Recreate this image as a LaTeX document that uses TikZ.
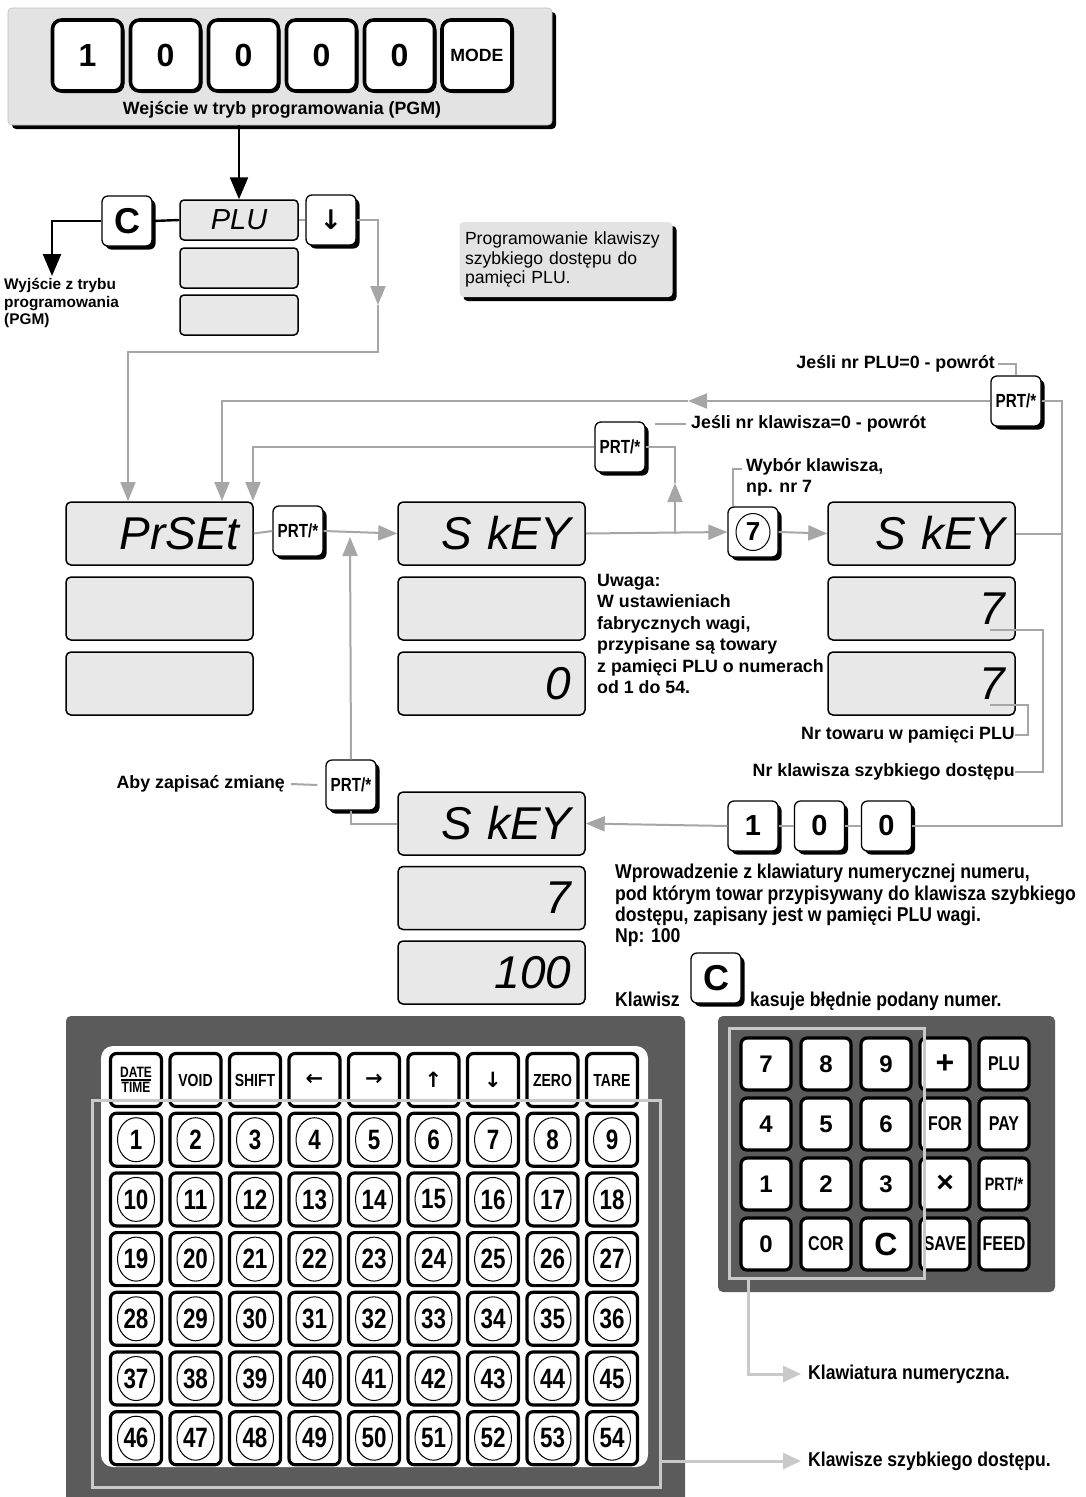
\documentclass[tikz,border=0pt]{standalone}
\usepackage{fontspec}
\setmainfont{Liberation Sans}
\newfontfamily\narr[FakeStretch=0.8]{Liberation Sans}
\newfontfamily\narrb[FakeStretch=0.88]{Liberation Sans}
\newfontfamily\arrf{DejaVu Sans}
\usetikzlibrary{arrows.meta,shadows,shapes.geometric}
\definecolor{lcd}{HTML}{E8E8E8}
\definecolor{boxg}{HTML}{E3E3E3}
\definecolor{lineg}{HTML}{A6A6A6}
\definecolor{outg}{HTML}{C9C9C9}
\definecolor{panel}{HTML}{5B5B5B}
\tikzset{
  gline/.style={draw=lineg,line width=2pt},
  gtip/.style={-{Triangle[length=19pt,width=15pt]}},
  bline/.style={draw=black,line width=2.4pt},
  btip/.style={-{Triangle[length=22pt,width=18pt]}},
  disp/.style={draw,line width=1.5pt,rounded corners=5pt,fill=lcd,minimum width=187pt,minimum height=63pt,inner sep=0pt,text width=160pt,align=right,font=\fontsize{46}{46}\selectfont\itshape},
  sdisp/.style={draw,line width=1.5pt,rounded corners=4pt,fill=lcd,minimum width=118pt,minimum height=40pt,inner sep=0pt,font=\fontsize{29}{29}\selectfont\itshape},
  shd/.style={drop shadow={shadow xshift=3.5pt,shadow yshift=-3.5pt,fill=black,opacity=1}},
  skey/.style={draw,line width=1.3pt,rounded corners=6pt,fill=white,minimum width=50pt,minimum height=50pt,inner sep=0pt,shd},
  prt/.style={skey,font=\narr\bfseries\fontsize{19}{19}\selectfont},
  bigkey/.style={draw,line width=3.6pt,rounded corners=9pt,fill=white,minimum width=70pt,minimum height=71pt,inner sep=0pt,drop shadow={shadow xshift=2pt,shadow yshift=-2pt,fill=black,opacity=1}},
  qkey/.style={draw,line width=3.2pt,rounded corners=6pt,fill=white,minimum width=51pt,minimum height=53pt,inner sep=0pt},
  nkey/.style={draw,line width=3.2pt,rounded corners=6pt,fill=white,minimum width=50pt,minimum height=52pt,inner sep=0pt},
  circ/.style={ellipse,draw,line width=1pt,minimum width=37pt,minimum height=44pt,inner sep=0pt,font=\narr\bfseries\fontsize{28}{28}\selectfont},
  lbl/.style={inner sep=0pt,font=\bfseries\fontsize{17.8}{21.4}\selectfont,align=left},
  nlbl/.style={inner sep=0pt,font=\narrb\bfseries\fontsize{20}{21.3}\selectfont,align=left},
  outl/.style={draw=outg,line width=3pt},
  otip/.style={-{Triangle[length=18pt,width=16pt]}},
  nd/.style={nkey,font=\bfseries\fontsize{24}{24}\selectfont},
  nw/.style={nkey,font=\narr\bfseries\fontsize{20}{20}\selectfont},
  tw/.style={qkey,font=\narr\bfseries\fontsize{17.5}{17.5}\selectfont},
  ta/.style={qkey,font=\arrf\bfseries\fontsize{21}{21}\selectfont},
}
\begin{document}
\begin{tikzpicture}[x=1pt,y=-1pt]
\path[use as bounding box,fill=white] (0,0) rectangle (1085,1497);
% ---------- entry box
\node[fill=boxg,draw=gray!50,line width=0.6pt,rounded corners=4pt,minimum width=544pt,minimum height=117pt,inner sep=0pt,drop shadow={shadow xshift=4pt,shadow yshift=-4pt,fill=black,opacity=1}] (tb) at (280,66.5) {};
\foreach \i/\x/\t in {1/87.5/1,2/165.5/0,3/243.5/0,4/321.5/0,5/399.5/0}
  \node[bigkey,font=\bfseries\fontsize{32}{32}\selectfont] (e\i) at (\x,55.5) {\t};
\node[bigkey,font=\bfseries\fontsize{17.7}{17.7}\selectfont] (e6) at (477,55.5) {MODE};
\node[lbl,font=\bfseries\fontsize{17.8}{17.8}\selectfont] (pgm) at (282,110) {Wejście w tryb programowania (PGM)};
% ---------- PLU block
\node[sdisp] (plu) at (239,220) {PLU};
\node[sdisp] (plu2) at (239,268) {};
\node[sdisp] (plu3) at (239,315) {};
\draw[bline,btip] (tb.south -| plu) -- (plu.north);
\node[skey,font=\bfseries\fontsize{36}{36}\selectfont] (ck) at (127,221) {C};
\draw[bline] (ck.east) -- (plu.west);
\coordinate (exit) at (52,276);
\draw[bline,btip] (ck.west) -| (exit);
\node[lbl,font=\bfseries\fontsize{15.4}{17.5}\selectfont,anchor=north west] (exitt) at (4,278) {Wyjście z trybu\\programowania\\(PGM)};
\node[skey,font=\arrf\bfseries\fontsize{27}{27}\selectfont] (dk) at (331,220) {↓};
\draw[gline] (plu.east) -- (dk.west);
\coordinate (m1) at (378,305);
\draw[gline,gtip] (dk.east) -| (m1);
\coordinate (pa) at (128,501);
\draw[gline,gtip] (m1) -- (378,352) -| (pa);
% ---------- info box
\node[fill=boxg,rounded corners=4pt,minimum width=213pt,minimum height=75pt,text width=202pt,align=left,inner sep=0pt,font=\fontsize{17.6}{19.5}\selectfont,drop shadow={shadow xshift=4pt,shadow yshift=-4pt,fill=black,opacity=1}] (info) at (566,259.5) {Programowanie klawiszy\\szybkiego dostępu do\\pamięci PLU.};
% ---------- displays
\node[disp] (ps1) at (159.5,533.5) {PrSEt};
\node[disp] (ps2) at (159.5,608.5) {};
\node[disp] (ps3) at (159.5,683.5) {};
\node[disp] (sk1) at (491.5,533.5) {S kEY};
\node[disp] (sk2) at (491.5,608.5) {};
\node[disp] (sk3) at (491.5,683.5) {0};
\node[disp,text width=168pt] (sr1) at (921.5,533.5) {S kEY};
\node[disp,text width=168pt] (sr2) at (921.5,608.5) {7};
\node[disp,text width=168pt] (sr3) at (921.5,683.5) {7};
\node[disp] (sb1) at (491.5,823.5) {S kEY};
\node[disp] (sb2) at (491.5,898) {7};
\node[disp] (sb3) at (491.5,972.5) {100};
% ---------- keys in flow
\node[prt] (pk1) at (298,531) {PRT/*};
\node[prt] (pk2) at (620,447) {PRT/*};
\node[prt] (pk3) at (1016,401) {PRT/*};
\node[prt] (pk4) at (351,785) {PRT/*};
\node[skey] (k7) at (753,532) {};
\node[circ,minimum width=34pt,minimum height=37pt,font=\bfseries\fontsize{26}{26}\selectfont] (k7c) at (k7) {7};
\node[skey,font=\bfseries\fontsize{29}{29}\selectfont] (n1) at (753,826) {1};
\node[skey,font=\bfseries\fontsize{29}{29}\selectfont] (n2) at (819.5,826) {0};
\node[skey,font=\bfseries\fontsize{29}{29}\selectfont] (n3) at (886.5,826) {0};
\node[skey,font=\bfseries\fontsize{36}{36}\selectfont] (kc2) at (716,978) {C};
% ---------- connectors
\draw[gline] (ps1.east) -- (pk1.west);
\draw[gline,gtip] (pk1.east) -- (sk1.west);
\coordinate (up1) at (350,537);
\draw[gline,gtip] (pk4.north) -- (up1);
\draw[gline] (pk4.south) |- (sb1.west);
\coordinate (j1) at (675,533.5);
\coordinate (m3) at (675,483);
\draw[gline,gtip] (sk1.east) -- (k7.west);
\draw[gline,gtip] (j1) -- (m3);
\draw[gline] (m3) |- (pk2.east);
\coordinate (pb) at (253,501);
\draw[gline,gtip] (pk2.west) -| (pb);
\coordinate (m2) at (688,401);
\coordinate (pc) at (222,501);
\draw[gline,gtip] (pk3.west) -- (m2);
\draw[gline,gtip] (m2) -| (pc);
\coordinate (r1) at (1062,826);
\draw[gline] (pk3.east) -| (r1) -- (n3.east);
\draw[gline] (sr1.east) -- (sr1.east -| r1);
\draw[gline,gtip] (k7.east) -- (sr1.west);
\draw[gline] (n1.east) -- (n2.west);
\draw[gline] (n2.east) -- (n3.west);
\draw[gline,gtip] (n1.west) -- (sb1.east);
% ---------- labels
\node[lbl,anchor=east] (jplu) at (995,364) {Jeśli nr PLU=0 - powrót};
\draw[gline] ([xshift=3pt]jplu.east) -| (pk3.north);
\node[lbl,anchor=west] (jkl) at (691,424) {Jeśli nr klawisza=0 - powrót};
\coordinate (jk0) at (655,424);
\draw[gline] (jk0) -- ([xshift=-5pt]jkl.west);
\node[lbl,anchor=north west] (wyb) at (746,458) {Wybór klawisza,\\np. nr 7};
\coordinate (wb) at (742,469);
\draw[gline] ([xshift=-20pt]k7.north) |- (wb);
\node[lbl,anchor=east] (nrt) at (1015,735) {Nr towaru w pamięci PLU};
\node[lbl,anchor=east] (nrk) at (1015,772) {Nr klawisza szybkiego dostępu};
\coordinate (t2) at (990,630);
\coordinate (t3) at (990,705);
\draw[gline] (t2) -| ([xshift=28pt]nrk.east) -- (nrk.east);
\draw[gline] (t3) -| ([xshift=13pt]nrt.east) -- (nrt.east);
\node[lbl,anchor=north west] (uw) at (597,574) {Uwaga:\\W ustawieniach\\fabrycznych wagi,\\przypisane są towary\\z pamięci PLU o numerach\\od 1 do 54.};
\node[lbl,anchor=east] (aby) at (285,784) {Aby zapisać zmianę};
\draw[gline] ([xshift=6pt]aby.east) -- ([xshift=-8pt]pk4.west);
\node[nlbl,anchor=north west] (wpr) at (615,864) {Wprowadzenie z klawiatury numerycznej numeru,\\pod którym towar przypisywany do klawisza szybkiego\\dostępu, zapisany jest w pamięci PLU wagi.\\Np: 100};
\node[nlbl,anchor=west] (kl) at (615,999) {Klawisz};
\node[nlbl,anchor=west] (kas) at (750,1001) {kasuje błędnie podany numer.};
% ---------- quick-access keyboard
\fill[panel,rounded corners=5pt] (66,1016) rectangle (685,1510);
\fill[white,rounded corners=12pt] (101,1046) rectangle (648,1467);
\node[tw,align=center,font=\narr\bfseries\fontsize{15}{15.5}\selectfont] (q0) at (136,1080) {DATE\\TIME};
\draw[line width=1.3pt] ([xshift=-15pt]q0.center) -- ([xshift=15pt]q0.center);
\node[tw] (qv) at (195.5,1080) {VOID};
\node[tw] (qs) at (255,1080) {SHIFT};
\node[ta] (ql) at (314.5,1080) {←};
\node[ta] (qr) at (374,1080) {→};
\node[ta] (qu) at (433.5,1080) {↑};
\node[ta] (qd) at (493,1080) {↓};
\node[tw] (qz) at (552.5,1080) {ZERO};
\node[tw] (qt) at (612,1080) {TARE};
\foreach \r in {1,...,6}{
  \foreach \c in {1,...,9}{
    \pgfmathtruncatemacro\n{(\r-1)*9+\c}
    \node[qkey] (q\n) at ({136+59.5*(\c-1)},{1080+59.7*\r}) {};
    \node[circ] (c\n) at (q\n) {\n};
  }
}
\draw[outl] (92,1100) rectangle (660,1487);
\coordinate (qa) at (660,1461);
\coordinate (qtip) at (801,1461);
\draw[outl,otip] (qa) -- (qtip);
\node[nlbl,anchor=west] (kqt) at (808,1461) {Klawisze szybkiego dostępu.};
% ---------- numeric keypad
\fill[panel,rounded corners=5pt] (718,1016) rectangle (1055,1292);
\node[nd] (d7) at (766,1064) {7};
\node[nd] (d8) at (826,1064) {8};
\node[nd] (d9) at (886,1064) {9};
\node[nkey,font=\bfseries\fontsize{32}{32}\selectfont] (dplus) at (945,1064) {+};
\node[nw] (dplu) at (1004,1064) {PLU};
\node[nd] (d4) at (766,1124) {4};
\node[nd] (d5) at (826,1124) {5};
\node[nd] (d6) at (886,1124) {6};
\node[nw] (dfor) at (945,1124) {FOR};
\node[nw] (dpay) at (1004,1124) {PAY};
\node[nd] (d1) at (766,1184) {1};
\node[nd] (d2) at (826,1184) {2};
\node[nd] (d3) at (886,1184) {3};
\node[nkey,font=\bfseries\fontsize{30}{30}\selectfont] (dx) at (945,1184) {×};
\node[nw,font=\narr\bfseries\fontsize{18}{18}\selectfont] (dprt) at (1004,1184) {PRT/*};
\node[nd] (d0) at (766,1244) {0};
\node[nw] (dcor) at (826,1244) {COR};
\node[nkey,font=\bfseries\fontsize{32}{32}\selectfont] (dc) at (886,1244) {C};
\node[nw] (dsave) at (945,1244) {SAVE};
\node[nw] (dfeed) at (1004,1244) {FEED};
\draw[outl] (729,1028) rectangle (924,1278);
\coordinate (na) at (748,1278);
\coordinate (ntip) at (801,1374);
\draw[outl,otip] (na) |- (ntip);
\node[nlbl,anchor=west] (knum) at (808,1374) {Klawiatura numeryczna.};
\end{tikzpicture}
\end{document}
